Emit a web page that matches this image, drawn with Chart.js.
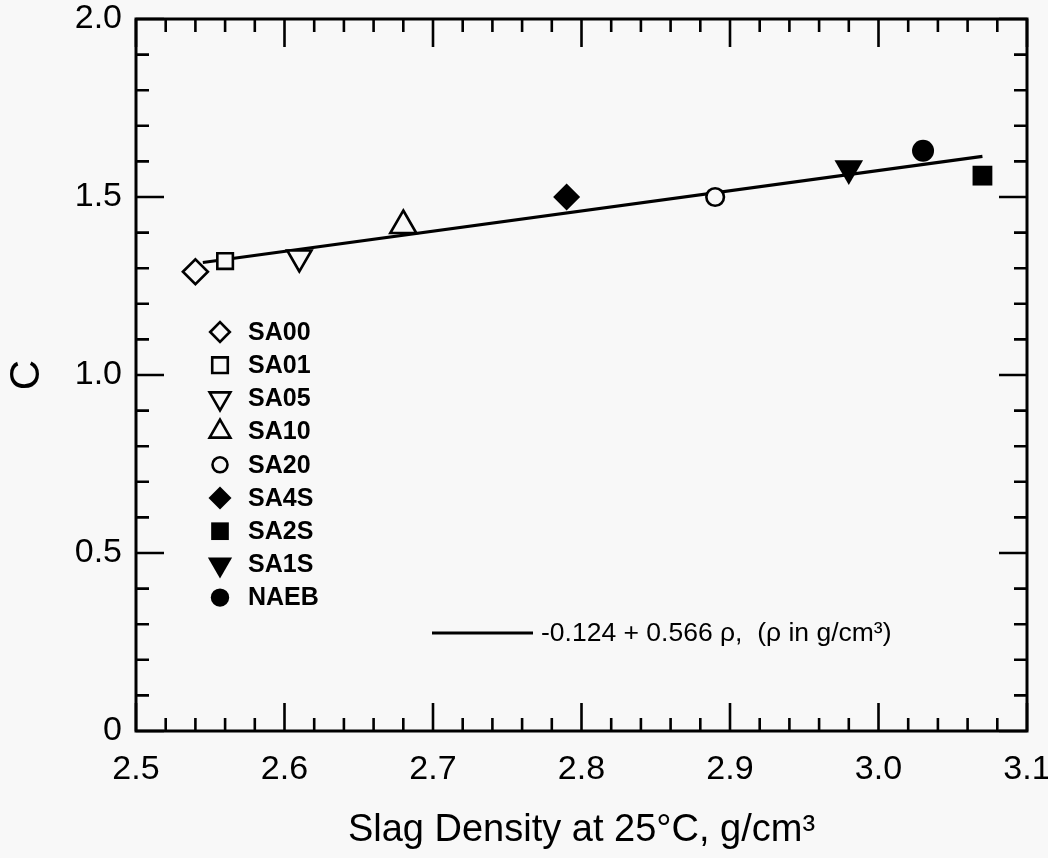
<!DOCTYPE html>
<html><head><meta charset="utf-8">
<script src="https://cdn.jsdelivr.net/npm/chart.js@4/dist/chart.umd.min.js"></script>
<style>html,body{margin:0;padding:0;background:#f8f8f8}canvas{display:block}</style>
</head><body>
<canvas id="c" width="1048" height="858"></canvas>
<script>
// ---- data ----
const seriesNames = ['SA00','SA01','SA05','SA10','SA20','SA4S','SA2S','SA1S','NAEB'];
const density = [2.54, 2.56, 2.61, 2.68, 2.89, 2.79, 3.07, 2.98, 3.03];
const cValue  = [1.29, 1.32, 1.33, 1.42, 1.50, 1.50, 1.56, 1.58, 1.63];
const fitX = [2.545, 3.07];
const fitC = [1.316, 1.614];
const fitLabel = '-0.124 + 0.566 \u03c1,  (\u03c1 in g/cm\u00b3)';
const xTickValues = [2.5, 2.6, 2.7, 2.8, 2.9, 3.0, 3.1];
const xTickLabels = ['2.5','2.6','2.7','2.8','2.9','3.0','3.1'];
const yTickValues = [0, 0.5, 1.0, 1.5, 2.0];
const yTickLabels = ['0','0.5','1.0','1.5','2.0'];
const xTitle = 'Slag Density at 25\u00b0C, g/cm\u00b3';
const yTitle = 'C';

// ---- styles ----
const BG = '#f8f8f8';
const FONT = '"Liberation Sans", Arial, Helvetica, sans-serif';
const mStyle  = ['rectRot','rect','triangle','triangle','circle','rectRot','rect','triangle','circle'];
const mRot    = [0, 0, 180, 0, 0, 0, 0, 180, 0];
const mFilled = [false,false,false,false,false,true,true,true,true];
const mRadius = [12.5, 11, 14, 15, 8.8, 13.5, 14, 16.5, 11];
const lRadius = [9.8, 11, 12, 12, 7.5, 11.5, 12.5, 14, 9.2];

const datasets = seriesNames.map((n, i) => ({
  label: n,
  data: [{x: density[i], y: cValue[i]}],
  pointStyle: mStyle[i],
  rotation: mRot[i],
  pointRadius: mRadius[i],
  pointHoverRadius: mRadius[i],
  borderColor: '#000',
  backgroundColor: mFilled[i] ? '#000' : BG,
  borderWidth: mFilled[i] ? 0 : 2.6,
  order: 0
}));
datasets.push({
  type: 'line',
  label: 'fit',
  data: fitX.map((v, i) => ({x: v, y: fitC[i]})),
  borderColor: '#000',
  borderWidth: 3.2,
  pointRadius: 0,
  fill: false,
  order: 10
});

function drawMarker(ctx, style, rot, x, y, r, filled) {
  ctx.save();
  ctx.beginPath();
  if (style === 'circle') {
    ctx.arc(x, y, r, 0, Math.PI * 2);
  } else if (style === 'rect') {
    const s = r * Math.SQRT1_2;
    ctx.rect(x - s, y - s, 2 * s, 2 * s);
  } else if (style === 'rectRot') {
    ctx.moveTo(x - r, y); ctx.lineTo(x, y - r); ctx.lineTo(x + r, y); ctx.lineTo(x, y + r); ctx.closePath();
  } else if (style === 'triangle') {
    let a = rot * Math.PI / 180;
    ctx.moveTo(x + Math.sin(a) * r, y - Math.cos(a) * r);
    a += 2 * Math.PI / 3;
    ctx.lineTo(x + Math.sin(a) * r, y - Math.cos(a) * r);
    a += 2 * Math.PI / 3;
    ctx.lineTo(x + Math.sin(a) * r, y - Math.cos(a) * r);
    ctx.closePath();
  }
  ctx.fillStyle = filled ? '#000' : BG;
  ctx.fill();
  if (!filled) { ctx.lineWidth = 2.6; ctx.strokeStyle = '#000'; ctx.stroke(); }
  ctx.restore();
}

const bgPlugin = {
  id: 'bg',
  beforeDraw(chart) {
    const ctx = chart.ctx;
    ctx.save(); ctx.fillStyle = BG; ctx.fillRect(0, 0, chart.width, chart.height); ctx.restore();
  }
};

const framePlugin = {
  id: 'frame',
  afterDraw(chart) {
    const {ctx, chartArea: a, scales} = chart;
    const xs = scales.x, ys = scales.y;
    ctx.save();
    ctx.strokeStyle = '#000';
    ctx.lineWidth = 2.6;
    // x ticks (minor every 0.02, major every 0.1)
    for (let i = 0; i <= 30; i++) {
      const px = xs.getPixelForValue(2.5 + i * 0.02);
      const len = (i % 5 === 0) ? 28 : 13;
      ctx.beginPath();
      ctx.moveTo(px, a.bottom); ctx.lineTo(px, a.bottom - len);
      ctx.moveTo(px, a.top); ctx.lineTo(px, a.top + len);
      ctx.stroke();
    }
    // y ticks (minor every 0.1, major every 0.5)
    for (let i = 0; i <= 20; i++) {
      const py = ys.getPixelForValue(i * 0.1);
      const len = (i % 5 === 0) ? 28 : 13;
      ctx.beginPath();
      ctx.moveTo(a.left, py); ctx.lineTo(a.left + len, py);
      ctx.moveTo(a.right, py); ctx.lineTo(a.right - len, py);
      ctx.stroke();
    }
    ctx.lineWidth = 3;
    ctx.strokeRect(a.left, a.top, a.right - a.left, a.bottom - a.top);
    ctx.restore();
  }
};

const legendPlugin = {
  id: 'customLegend',
  afterDraw(chart) {
    const ctx = chart.ctx;
    ctx.save();
    const mx = 220, tx = 248, y0 = 332, dy = 33.2;
    ctx.font = 'bold 25px ' + FONT;
    ctx.fillStyle = '#000';
    ctx.textBaseline = 'middle';
    ctx.textAlign = 'left';
    seriesNames.forEach((n, i) => {
      const y = y0 + i * dy;
      drawMarker(ctx, mStyle[i], mRot[i], mx, y, lRadius[i], mFilled[i]);
      ctx.fillStyle = '#000';
      ctx.fillText(n, tx, y + 1);
    });
    // fit line legend
    ctx.beginPath();
    ctx.lineWidth = 3;
    ctx.strokeStyle = '#000';
    ctx.moveTo(432, 633); ctx.lineTo(533, 633);
    ctx.stroke();
    ctx.font = '26.5px ' + FONT;
    ctx.fillText(fitLabel, 541, 634);
    ctx.restore();
  }
};

new Chart(document.getElementById('c'), {
  type: 'scatter',
  data: { datasets },
  options: {
    responsive: false,
    animation: false,
    events: [],
    layout: { padding: { top: 19, right: 21, left: 0, bottom: 0 } },
    plugins: { legend: { display: false }, tooltip: { enabled: false } },
    scales: {
      x: {
        type: 'linear', min: 2.5, max: 3.1,
        grid: { display: false, drawTicks: false },
        border: { display: false },
        afterBuildTicks: s => { s.ticks = xTickValues.map(v => ({value: v})); },
        ticks: {
          callback: (v, i) => xTickLabels[i],
          font: { family: FONT, size: 34 }, color: '#000', padding: 18,
          maxRotation: 0, autoSkip: false
        },
        title: { display: true, text: xTitle, color: '#000',
          font: { family: FONT, size: 38 }, padding: { top: 0, bottom: 5 } },
        afterFit: s => { s.height = 127; s.paddingLeft = 0; s.paddingRight = 0; }
      },
      y: {
        type: 'linear', min: 0, max: 2,
        grid: { display: false, drawTicks: false },
        border: { display: false },
        afterBuildTicks: s => { s.ticks = yTickValues.map(v => ({value: v})); },
        ticks: {
          callback: (v, i) => yTickLabels[i],
          font: { family: FONT, size: 34 }, color: '#000', padding: 14,
          autoSkip: false
        },
        title: { display: true, text: yTitle, color: '#000',
          font: { family: FONT, size: 42 }, padding: { top: 2, bottom: 0 } },
        afterFit: s => { s.width = 136; s.paddingTop = 0; s.paddingBottom = 0; }
      }
    }
  },
  plugins: [bgPlugin, framePlugin, legendPlugin]
});
</script>
</body></html>
